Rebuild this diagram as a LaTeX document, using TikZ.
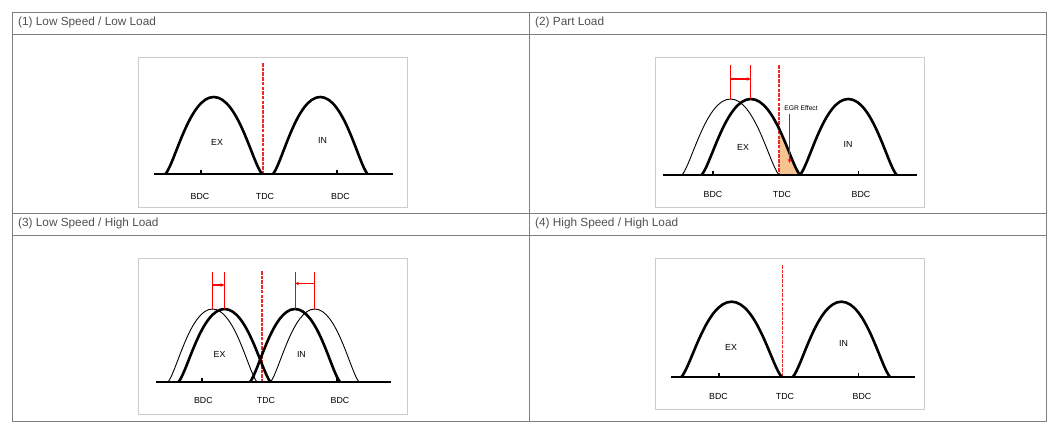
\documentclass[tikz,border=0pt]{standalone}
\usepackage{fontspec}
\setmainfont{Liberation Sans}
\usetikzlibrary{arrows.meta}
\definecolor{tablegray}{RGB}{128,128,128}
\definecolor{boxgray}{RGB}{204,204,204}
\definecolor{headtext}{RGB}{80,80,80}
\definecolor{egrfill}{RGB}{246,196,145}
\definecolor{tdcred}{RGB}{240,40,40}
% one valve lift curve: start x, end x, base y, top y
\newcommand{\camlift}[4]{(#1,#3) .. controls ({#1+0.1*(#2-#1)},{#3-0.15*(#3-#4)}) and ({#1+0.25*(#2-#1)},#4) .. ({(#1+#2)/2},#4) .. controls ({#2-0.25*(#2-#1)},#4) and ({#2-0.1*(#2-#1)},{#3-0.15*(#3-#4)}) .. (#2,#3)}
\begin{document}
\begin{tikzpicture}[x=1pt,y=-1pt,
  tableline/.style={draw=tablegray,line width=1pt},
  panelbox/.style={draw=boxgray,line width=0.8pt},
  headtxt/.style={anchor=west,text=headtext,font=\fontsize{11.8}{14}\selectfont,inner sep=0pt},
  lbl/.style={font=\fontsize{8.8}{10}\selectfont,inner sep=0pt},
  small/.style={font=\fontsize{6.7}{8}\selectfont,inner sep=0pt},
  camaxis/.style={line width=2.6pt},
  dcmark/.style={line width=1.8pt},
  thickcam/.style={line width=2.6pt,line join=round},
  thincam/.style={line width=0.9pt},
  tdcline/.style={draw=tdcred,dash pattern=on 3.5pt off 1.2pt,line width=1.6pt},
  redmark/.style={red,line width=1pt},
  redarrow/.style={draw=red,line width=1.2pt,-{Stealth[length=4pt,width=3.5pt]}}]
\useasboundingbox (0,0) rectangle (1059,434);

% table
\draw[tableline] (12,12) rectangle (1046,421);
\draw[tableline] (12,34) -- (1046,34);
\draw[tableline] (12,213) -- (1046,213);
\draw[tableline] (12,235) -- (1046,235);
\draw[tableline] (529,12) -- (529,421);
\node[headtxt] (h1) at (18,22.5) {(1) Low Speed / Low Load};
\node[headtxt] (h2) at (535,22.5) {(2) Part Load};
\node[headtxt] (h3) at (18,223.5) {(3) Low Speed / High Load};
\node[headtxt] (h4) at (535,223.5) {(4) High Speed / High Load};

% (1) low speed / low load
\draw[panelbox] (138.5,57) rectangle (407,207);
\draw[tdcline] (263,63) -- (263,174);
\draw[thickcam] \camlift{165.5}{262}{174}{97};
\draw[thickcam] \camlift{273}{367.5}{174}{97};
\draw[camaxis] (154,174) -- (393,174);
\draw[dcmark] (201,174) -- (201,169.5);
\draw[dcmark] (337,174) -- (337,169.5);
\node[lbl] (ex1) at (217,142.7) {EX};
\node[lbl] (in1) at (322.6,140) {IN};
\node[lbl] (bdc1a) at (200,196) {BDC};
\node[lbl] (tdc1) at (265,196) {TDC};
\node[lbl] (bdc1b) at (340.5,196) {BDC};

% (2) part load
\draw[panelbox] (655.7,57) rectangle (924.6,207);
\begin{scope}
\clip (779,60) rectangle (830,175);
\fill[egrfill] \camlift{701.6}{800}{175}{99};
\end{scope}
\draw[tdcline] (779,65) -- (779,175);
\draw[thincam] \camlift{682}{779}{175}{99};
\draw[thickcam] \camlift{701.6}{800}{175}{99};
\draw[thickcam] \camlift{800}{896.6}{175}{99};
\draw[camaxis] (663,175) -- (917,175);
\draw[dcmark] (713,175) -- (713,170.5);
\draw[dcmark] (858.5,175) -- (858.5,170.5);
\coordinate (exold2) at (730.8,65);
\coordinate (exnew2) at (750.8,65);
\draw[redmark] (exold2) -- (730.8,99);
\draw[redmark] (exnew2) -- (750.8,99);
\coordinate (sh2a) at (730.8,79);
\coordinate (sh2b) at (750.8,79);
\draw[redarrow] (sh2a) -- (sh2b);
\node[small] (egr) at (801,108) {EGR Effect};
\coordinate (egrtip) at (789.5,163);
\draw[redarrow] (789.5,114) -- (egrtip);
\node[lbl] (ex2) at (743,147) {EX};
\node[lbl] (in2) at (848,144) {IN};
\node[lbl] (bdc2a) at (713,194.5) {BDC};
\node[lbl] (tdc2) at (782,194.5) {TDC};
\node[lbl] (bdc2b) at (861,194.5) {BDC};

% (3) low speed / high load
\draw[panelbox] (138.5,258) rectangle (407,414);
\draw[tdcline] (262,271) -- (262,382);
\draw[thincam] \camlift{168}{257}{382}{309};
\draw[thincam] \camlift{270.5}{359}{382}{309};
\draw[thickcam] \camlift{178.5}{270.5}{382}{309};
\draw[thickcam] \camlift{250}{340}{382}{309};
\draw[camaxis] (156,382) -- (391,382);
\draw[dcmark] (201.7,382) -- (201.7,377.5);
\draw[dcmark] (337,382) -- (337,377.5);
\coordinate (exold3) at (212.5,272);
\coordinate (exnew3) at (224.5,272);
\coordinate (inold3) at (314.8,272);
\coordinate (innew3) at (295,272);
\draw[redmark] (exold3) -- (212.5,309);
\draw[redmark] (exnew3) -- (224.5,309);
\draw[redmark] (inold3) -- (314.8,309);
\draw[redmark] (innew3) -- (295,309);
\coordinate (sh3a) at (212.5,285);
\coordinate (sh3b) at (224.5,285);
\coordinate (sh3c) at (314.8,283.5);
\coordinate (sh3d) at (295,283.5);
\draw[redarrow] (sh3a) -- (sh3b);
\draw[redarrow] (sh3c) -- (sh3d);
\node[lbl] (ex3) at (219.6,354) {EX};
\node[lbl] (in3) at (301.4,354) {IN};
\node[lbl] (bdc3a) at (203.4,400) {BDC};
\node[lbl] (tdc3) at (266,400) {TDC};
\node[lbl] (bdc3b) at (340,400) {BDC};

% (4) high speed / high load
\draw[panelbox] (655.7,258) rectangle (924.6,409);
\draw[tdcline] (782.4,265) -- (782.4,377);
\draw[thickcam] \camlift{681.4}{781.7}{377}{301.7};
\draw[thickcam] \camlift{792.8}{890}{377}{301.7};
\draw[camaxis] (671,377) -- (915,377);
\draw[dcmark] (719,377) -- (719,372.5);
\draw[dcmark] (858.5,377) -- (858.5,372.5);
\node[lbl] (ex4) at (731,347) {EX};
\node[lbl] (in4) at (843.5,343.3) {IN};
\node[lbl] (bdc4a) at (718.5,396) {BDC};
\node[lbl] (tdc4) at (785,396) {TDC};
\node[lbl] (bdc4b) at (862,396) {BDC};
\end{tikzpicture}
\end{document}
